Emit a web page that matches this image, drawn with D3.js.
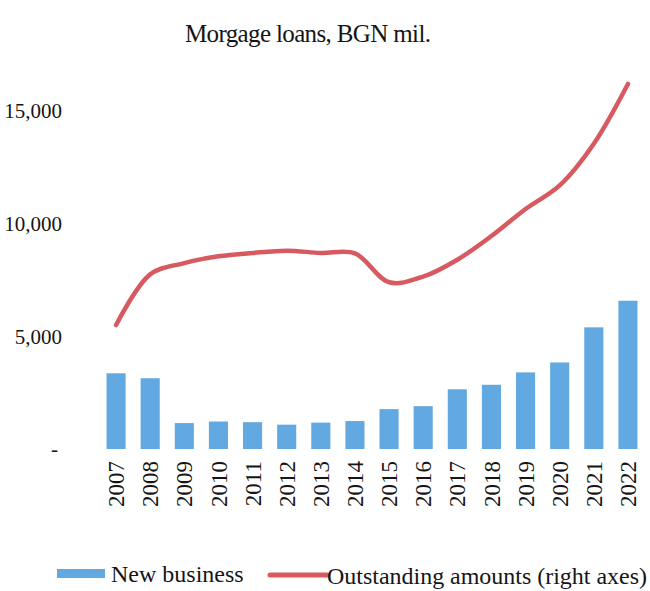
<!DOCTYPE html>
<html>
<head>
<meta charset="utf-8">
<style>
    body { margin: 0; background: #fff; }
    text { font-family: "Liberation Serif", "Times New Roman", serif; fill: #151515; }
</style>
</head>
<body>
<svg id="chart" width="650" height="591"></svg>

<script src="https://d3js.org/d3.v7.min.js"></script>
<script>
    // data (BGN mil.)
    let years = ['2007', '2008', '2009', '2010', '2011', '2012', '2013', '2014',
        '2015', '2016', '2017', '2018', '2019', '2020', '2021', '2022']
    let newBusiness = [3360, 3140, 1150, 1220, 1190, 1080, 1170, 1240,
        1770, 1900, 2650, 2850, 3400, 3840, 5400, 6580]
    let outstanding = [5500, 7750, 8250, 8550, 8700, 8800, 8700, 8680,
        7400, 7650, 8400, 9450, 10650, 11700, 13550, 16200]
    let yTicks = [0, 5000, 10000, 15000]

    let barColor = '#62a9e1'
    let lineColor = '#d65a60'

    let svg = d3.select('#chart')

    let x = d3.scaleBand()
        .domain(years)
        .range([99, 645])
        .paddingInner(0.44)
        .paddingOuter(0.22)

    let y = d3.scaleLinear()
        .domain([0, 15000])
        .range([449, 111])

    // title
    svg.append('text')
        .attr('x', 308)
        .attr('y', 42)
        .attr('text-anchor', 'middle')
        .style('font-size', '25px')
        .attr('textLength', 246)
        .text('Morgage loans, BGN mil.')

    // left axis, labels only
    let fmt = d3.format(',')
    let yAxis = d3.axisLeft(y)
        .tickValues(yTicks)
        .tickSize(0)
        .tickPadding(0)
        .tickFormat(d => d === 0 ? '-' : fmt(d))
    let yG = svg.append('g')
        .attr('transform', 'translate(62,0)')
        .call(yAxis)
    yG.select('.domain').remove()
    yG.selectAll('text')
        .style('font-size', '21px')
        .attr('fill', '#151515')
        .attr('dx', d => d === 0 ? '-4px' : 0)

    // bars
    svg.append('g')
        .selectAll('rect')
        .data(years)
        .join('rect')
        .attr('x', d => x(d))
        .attr('width', x.bandwidth())
        .attr('y', (d, i) => y(newBusiness[i]))
        .attr('height', (d, i) => y(0) - y(newBusiness[i]))
        .attr('fill', barColor)

    // outstanding amounts line (smoothed like the source)
    let line = d3.line()
        .x((d, i) => x(years[i]) + x.bandwidth() / 2)
        .y(d => y(d))
        .curve(d3.curveCatmullRom.alpha(0.5))

    svg.append('path')
        .datum(outstanding)
        .attr('d', line)
        .attr('fill', 'none')
        .attr('stroke', lineColor)
        .attr('stroke-width', 4.5)
        .attr('stroke-linecap', 'round')

    // x labels, rotated
    let xAxis = d3.axisBottom(x).tickSize(0).tickPadding(0)
    let xG = svg.append('g')
        .attr('transform', 'translate(0,' + (y(0) + 12) + ')')
        .call(xAxis)
    xG.select('.domain').remove()
    xG.selectAll('text')
        .style('font-size', '23px')
        .attr('fill', '#151515')
        .attr('text-anchor', 'end')
        .attr('transform', 'rotate(-90)')
        .attr('x', 0)
        .attr('y', 0)
        .attr('dy', '0.35em')

    // legend
    let legend = svg.append('g')
    legend.append('rect')
        .attr('x', 57)
        .attr('y', 569)
        .attr('width', 48)
        .attr('height', 9)
        .attr('fill', barColor)
    legend.append('text')
        .attr('x', 111)
        .attr('y', 582)
        .style('font-size', '24px')
        .text('New business')
    legend.append('line')
        .attr('x1', 270)
        .attr('x2', 327)
        .attr('y1', 575)
        .attr('y2', 575)
        .attr('stroke', lineColor)
        .attr('stroke-width', 5)
        .attr('stroke-linecap', 'round')
    legend.append('text')
        .attr('x', 327)
        .attr('y', 584)
        .style('font-size', '24px')
        .attr('textLength', 320)
        .text('Outstanding amounts (right axes)')
</script>
</body>
</html>
